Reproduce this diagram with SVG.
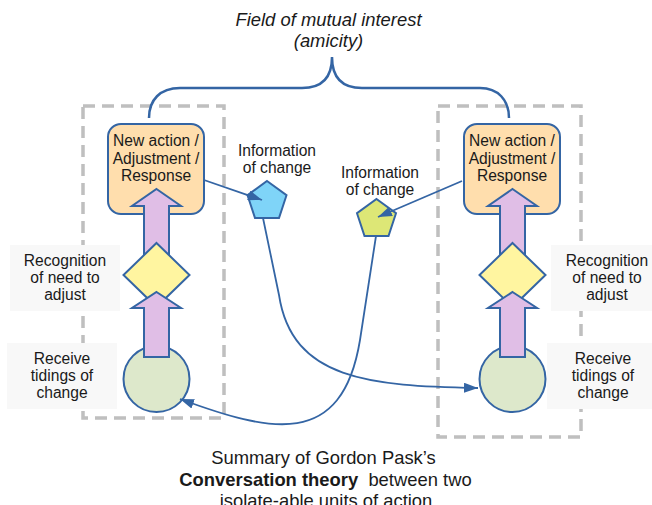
<svg xmlns="http://www.w3.org/2000/svg" width="652" height="505" viewBox="0 0 652 505">
<defs>
<style>
.dash{fill:none;stroke:#bfbfbf;stroke-width:3.5;stroke-dasharray:12 7}
.box{fill:#ffdead;stroke:#3465a4;stroke-width:2}
.arr{fill:#e0bee6;stroke:#3465a4;stroke-width:2;stroke-linejoin:miter}
.dia{fill:#fff5a0;stroke:#3465a4;stroke-width:2}
.circ{fill:#dde8cb;stroke:#3465a4;stroke-width:2}
.lbl{fill:#f8f8f8;stroke:none}
.t{font-family:"Liberation Sans",Arial,sans-serif;font-size:15.6px;fill:#1a1a1a;text-anchor:middle}
.big{font-family:"Liberation Sans",Arial,sans-serif;font-size:18.4px;fill:#1a1a1a;text-anchor:middle}
.con{fill:none;stroke:#3465a4;stroke-width:1.8}
</style>
<marker id="ah" viewBox="0 0 14 10" refX="14" refY="5" markerWidth="14" markerHeight="10" markerUnits="userSpaceOnUse" orient="auto">
<path d="M0,0 L14,5 L0,10 Z" fill="#3465a4"/>
</marker>
</defs>
<rect width="652" height="505" fill="#ffffff"/>

<g id="title">
<text class="big" x="328.5" y="26" font-style="italic">Field of mutual interest</text>
<text class="big" x="328.5" y="47" font-style="italic">(amicity)</text>
</g>

<g id="unit-left-frame"><rect class="dash" x="83" y="106" width="141" height="312"/></g>
<g id="unit-right-frame"><rect class="dash" x="438" y="106" width="143" height="331"/></g>

<g id="brace">
<path d="M149,118 C149,100 160,88 180,88 L302,88 C320,88 332,80 332,57 C332,80 344,88 362,88 L480,88 C498,88 509,100 509,118" fill="none" stroke="#3465a4" stroke-width="2.5"/>
</g>

<g id="left-action">
<rect class="box" x="108" y="124" width="96" height="90" rx="13"/>
<text class="t" x="156" y="146">New action /</text>
<text class="t" x="156" y="163.5">Adjustment /</text>
<text class="t" x="156" y="181">Response</text>
</g>
<g id="right-action">
<rect class="box" x="464" y="124" width="96" height="90" rx="13"/>
<text class="t" x="512" y="146">New action /</text>
<text class="t" x="512" y="163.5">Adjustment /</text>
<text class="t" x="512" y="181">Response</text>
</g>

<g id="left-arrow-upper"><polygon class="arr" points="156.5,189 181,206 169,206 169,258 144,258 144,206 132,206"/></g>
<g id="left-recognition"><polygon class="dia" points="156.5,243 189.5,275 156.5,307 123.5,275"/></g>
<g id="left-tidings"><circle class="circ" cx="156.5" cy="379" r="33"/></g>
<g id="left-arrow-lower"><polygon class="arr" points="156.5,292 181,308 169,308 169,357 144,357 144,308 132,308"/></g>

<g id="right-arrow-upper"><polygon class="arr" points="512.5,189 537,206 525,206 525,258 500,258 500,206 488,206"/></g>
<g id="right-recognition"><polygon class="dia" points="512.5,243 545.5,275 512.5,307 479.5,275"/></g>
<g id="right-tidings"><circle class="circ" cx="512.5" cy="379" r="33"/></g>
<g id="right-arrow-lower"><polygon class="arr" points="512.5,292 537,308 525,308 525,357 500,357 500,308 488,308"/></g>

<g id="label-left-recognition">
<rect class="lbl" x="10" y="245" width="110" height="66"/>
<text class="t" x="65" y="266">Recognition</text>
<text class="t" x="65" y="283">of need to</text>
<text class="t" x="65" y="300">adjust</text>
</g>
<g id="label-left-tidings">
<rect class="lbl" x="7" y="343" width="110" height="66"/>
<text class="t" x="62" y="364">Receive</text>
<text class="t" x="62" y="381">tidings of</text>
<text class="t" x="62" y="398">change</text>
</g>
<g id="label-right-recognition">
<rect class="lbl" x="551" y="245" width="112" height="66"/>
<text class="t" x="607" y="266">Recognition</text>
<text class="t" x="607" y="283">of need to</text>
<text class="t" x="607" y="300">adjust</text>
</g>
<g id="label-right-tidings">
<rect class="lbl" x="547" y="343" width="112" height="66"/>
<text class="t" x="603" y="364">Receive</text>
<text class="t" x="603" y="381">tidings of</text>
<text class="t" x="603" y="398">change</text>
</g>

<g id="info-blue">
<polygon points="267,181 286.5,195.2 279,218.1 255,218.1 247.5,195.2" fill="#7fd4f8" stroke="#3465a4" stroke-width="2"/>
<text class="t" x="277" y="155.5">Information</text>
<text class="t" x="277" y="172.5">of change</text>
</g>
<g id="info-yellow">
<polygon points="376.5,199 396,213.2 388.5,236.1 364.5,236.1 357,213.2" fill="#dde776" stroke="#3465a4" stroke-width="2"/>
<text class="t" x="380" y="177.5">Information</text>
<text class="t" x="380" y="194.5">of change</text>
</g>

<g id="connectors">
<path class="con" d="M204,180 L262,200" marker-end="url(#ah)"/>
<path class="con" d="M462,181 L378,217" marker-end="url(#ah)"/>
<path class="con" d="M263,218 L279,295 C292,380 370,386 478,388" marker-end="url(#ah)"/>
<path class="con" d="M376,236 L360,340 C342,450 270,432 180,399" marker-end="url(#ah)"/>
</g>

<g id="caption">
<text class="big" x="323.5" y="464">Summary of Gordon Pask’s</text>
<text class="big" x="325.5" y="486" xml:space="preserve"><tspan font-weight="bold">Conversation theory</tspan>  between two</text>
<text class="big" x="326" y="507">isolate-able units of action</text>
</g>
</svg>
